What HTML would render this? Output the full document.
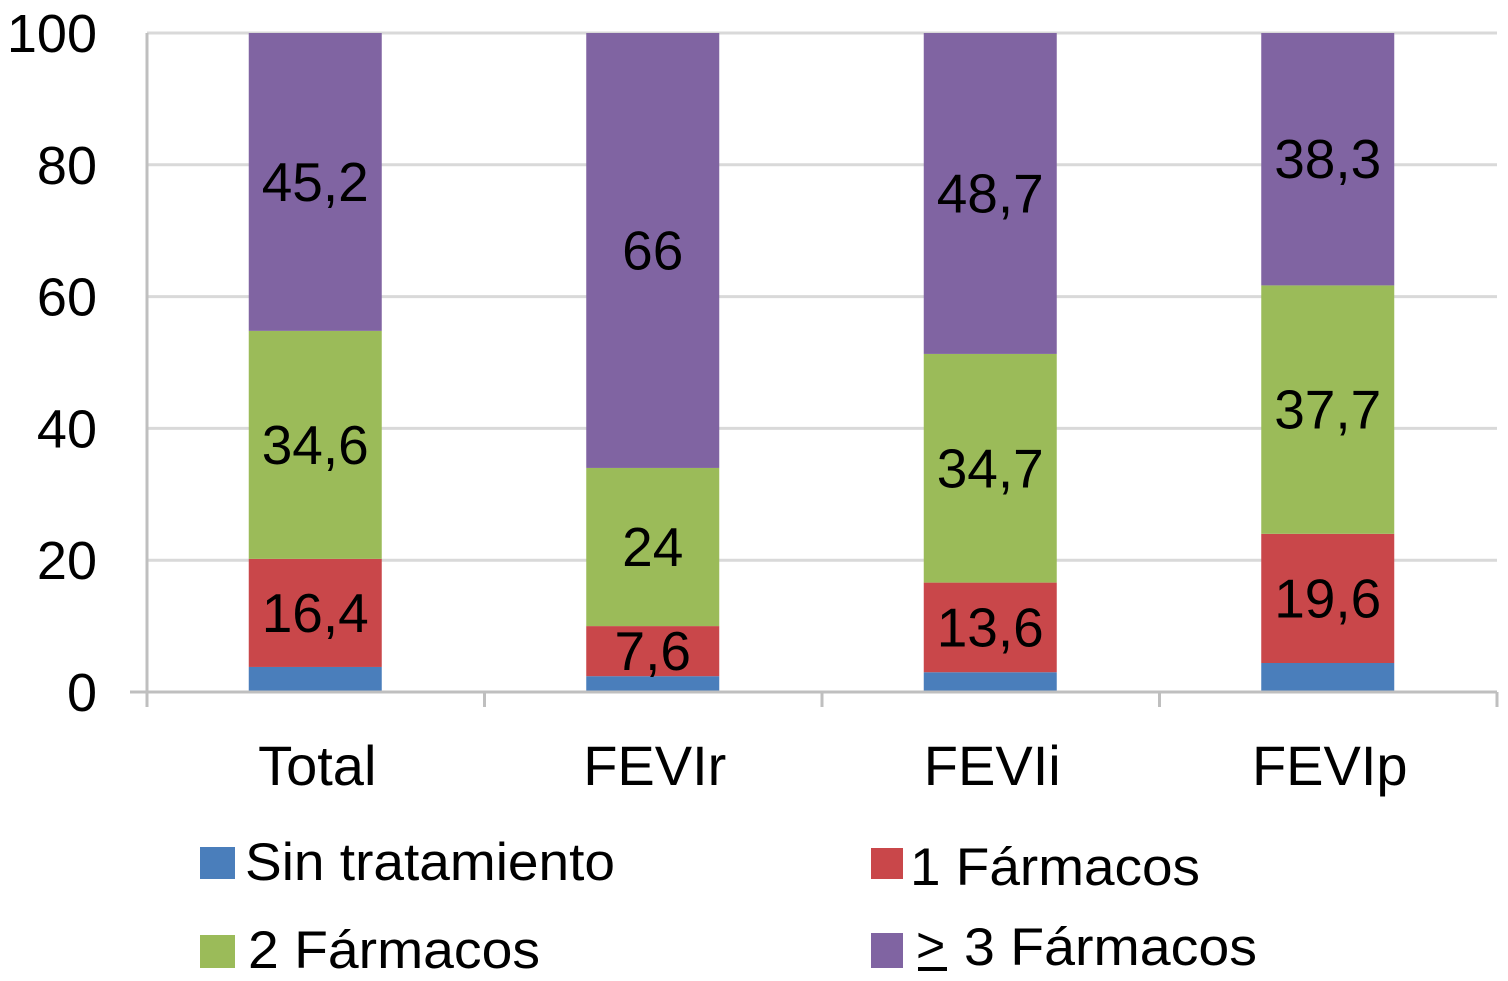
<!DOCTYPE html>
<html><head><meta charset="utf-8"><style>
html,body{margin:0;padding:0;background:#fff;}
svg{display:block;font-family:"Liberation Sans",Arial,sans-serif;}
</style></head><body>
<svg id="chart" width="1508" height="981" viewBox="0 0 1508 981" xmlns="http://www.w3.org/2000/svg">
<g id="grid"></g>
<g id="bars"></g>
<g id="axes"></g>
<g id="legend">
  <rect x="200" y="847" width="35" height="32" fill="#4a7ebb"/>
  <text x="245" y="880" font-size="53" textLength="370" lengthAdjust="spacingAndGlyphs">Sin tratamiento</text>
  <rect x="871" y="848" width="32" height="31" fill="#c9474a"/>
  <text x="910" y="885" font-size="53" textLength="290" lengthAdjust="spacingAndGlyphs">1 Fármacos</text>
  <rect x="200" y="935" width="35" height="33" fill="#9bbb59"/>
  <text x="248" y="968" font-size="53" textLength="292" lengthAdjust="spacingAndGlyphs">2 Fármacos</text>
  <rect x="871" y="933" width="32" height="35" fill="#8064a2"/>
  <text x="916" y="962" font-size="50">&gt;</text>
  <line x1="918" x2="947" y1="969" y2="969" stroke="#000" stroke-width="4"/>
  <text x="964" y="965" font-size="53" textLength="293" lengthAdjust="spacingAndGlyphs">3 Fármacos</text>
</g>
</svg>
<script>
const categories = ["Total","FEVIr","FEVIi","FEVIp"];
const sinTratamiento = [3.8, 2.4, 3.0, 4.4];
const unFarmaco = [16.4, 7.6, 13.6, 19.6];
const dosFarmacos = [34.6, 24, 34.7, 37.7];
const tresFarmacos = [45.2, 66, 48.7, 38.3];
const yTicks = [0,20,40,60,80,100];

const NS="http://www.w3.org/2000/svg";
const y0=692, y100=33, left=147, right=1497;
function y(v){return y0-(y0-y100)*v/100;}
const band=(right-left)/categories.length;
function xc(i){return left+band*(i+0.5)-0.5;}
const barW=133;
function mk(tag,attrs,parent){const e=document.createElementNS(NS,tag);for(const k in attrs)e.setAttribute(k,attrs[k]);parent.appendChild(e);return e;}
const grid=document.getElementById('grid'),bars=document.getElementById('bars'),axes=document.getElementById('axes');
yTicks.forEach(t=>{
  if(t>0){const l=mk('line',{x1:left,x2:right,y1:y(t),y2:y(t),stroke:'#d9d9d9','stroke-width':3},grid);
  
  }
  const tx=mk('text',{x:97,y:y(t)+19,'font-size':54,'text-anchor':'end'},axes);
  tx.textContent=t;
  
  
});
const series=[
  {name:'sin-tratamiento',vals:sinTratamiento,color:'#4a7ebb',label:false},
  {name:'1-farmacos',vals:unFarmaco,color:'#c9474a',label:true},
  {name:'2-farmacos',vals:dosFarmacos,color:'#9bbb59',label:true},
  {name:'3-farmacos',vals:tresFarmacos,color:'#8064a2',label:true}
];
categories.forEach((c,i)=>{
  let acc=0;
  series.forEach(s=>{
    const v=s.vals[i];const top=y(acc+v),bot=y(acc);
    const r=mk('rect',{x:xc(i)-barW/2,y:top,width:barW,height:bot-top,fill:s.color},bars);
    
    
    if(s.label){
      const t=mk('text',{x:xc(i),y:(top+bot)/2+19,'font-size':55,'text-anchor':'middle',fill:'#000'},bars);
      t.textContent=String(v).replace('.',',');
      
      
    }
    acc+=v;
  });
  const xl=mk('text',{x:xc(i)+2,y:785,'font-size':56,'text-anchor':'middle'},axes);
  xl.textContent=c;
  
  
});
const xa=mk('line',{x1:130,x2:right,y1:y0,y2:y0,stroke:'#bfbfbf','stroke-width':3},axes);


const ya=mk('line',{x1:left,x2:left,y1:y100,y2:706,stroke:'#bfbfbf','stroke-width':3},axes);


for(let i=0;i<=categories.length;i++){
  const tk=mk('line',{x1:left+band*i,x2:left+band*i,y1:y0,y2:707,stroke:'#bfbfbf','stroke-width':3},axes);
  
  
}
</script>
</body></html>
